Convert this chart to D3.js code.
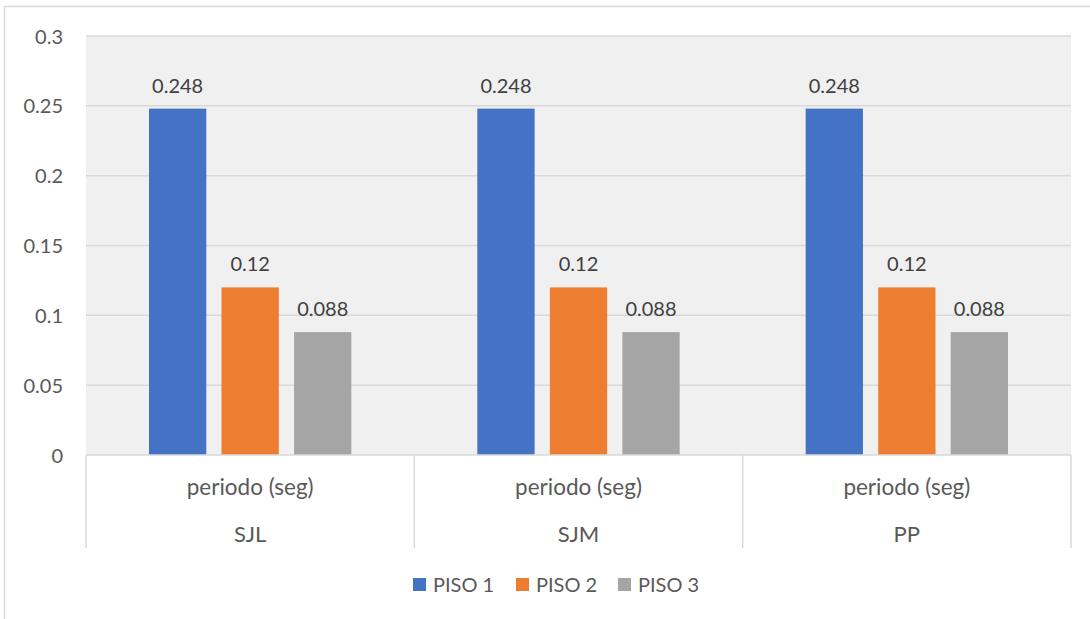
<!DOCTYPE html>
<html>
<head>
<meta charset="utf-8">
<script src="https://cdn.jsdelivr.net/npm/d3@7"></script>
<style>
  html, body { margin: 0; padding: 0; background: #fff; }
  svg { display: block; font-family: Lato, "Open Sans", sans-serif; }
</style>
</head>
<body>
<svg id="chart" width="1090" height="619"></svg>
<script>
// Chart data
const groups = ["SJL", "SJM", "PP"];
const subLabel = "periodo (seg)";
const series = ["PISO 1", "PISO 2", "PISO 3"];
const piso1 = [0.248, 0.248, 0.248];
const piso2 = [0.12, 0.12, 0.12];
const piso3 = [0.088, 0.088, 0.088];
const yTicks = [0, 0.05, 0.1, 0.15, 0.2, 0.25, 0.3];
const colors = ["#4472c4", "#ed7d31", "#a5a5a5"];

const values = [piso1, piso2, piso3];
const textColor = "#595959";
const gridColor = "#d9d9d9";

const svg = d3.select("#chart");
const W = 1090, H = 619;

// outer chart frame
svg.append("rect")
  .attr("x", 4.5).attr("y", 6.5)
  .attr("width", W + 10).attr("height", H + 10)
  .attr("fill", "#fff").attr("stroke", gridColor).attr("stroke-width", 1.5);

const plot = { left: 86, right: 1071, top: 36, bottom: 455 };

const x0 = d3.scaleBand().domain(groups).range([plot.left, plot.right]).padding(0);
const x1 = d3.scaleBand().domain(series)
  .range([63, x0.bandwidth() - 63]).paddingInner(0.21).paddingOuter(0);
const y = d3.scaleLinear().domain([0, 0.3]).range([plot.bottom, plot.top]);

// plot background
svg.append("rect")
  .attr("x", plot.left).attr("y", plot.top)
  .attr("width", plot.right - plot.left).attr("height", plot.bottom - plot.top)
  .attr("fill", "#f0f0f0");

// horizontal gridlines
svg.append("g").selectAll("line")
  .data(yTicks.filter(d => d > 0))
  .join("line")
  .attr("x1", plot.left).attr("x2", plot.right)
  .attr("y1", d => y(d)).attr("y2", d => y(d))
  .attr("stroke", gridColor).attr("stroke-width", 1.5);

// y axis labels
const yAxis = d3.axisLeft(y).tickValues(yTicks).tickFormat(d3.format("")).tickSize(0).tickPadding(0);
const yg = svg.append("g").attr("transform", `translate(63,0)`).call(yAxis);
yg.select(".domain").remove();
yg.selectAll("text")
  .attr("fill", textColor).style("font-size", "20px")
  .style("font-family", "Lato, sans-serif").attr("dy", "0.35em");

// bars
const gBars = svg.append("g");
groups.forEach((g, gi) => {
  series.forEach((s, si) => {
    const v = values[si][gi];
    const bx = x0(g) + x1(s);
    gBars.append("rect")
      .attr("x", bx).attr("y", y(v))
      .attr("width", x1.bandwidth()).attr("height", y(0) - y(v))
      .attr("fill", colors[si]);
    gBars.append("text")
      .attr("x", bx + x1.bandwidth() / 2).attr("y", y(v) - 16)
      .attr("text-anchor", "middle")
      .attr("fill", "#404040").style("font-size", "20px")
      .text(d3.format("")(v));
  });
});

// category axis (two levels)
const axisY = plot.bottom;
svg.append("line")
  .attr("x1", plot.left).attr("x2", plot.right)
  .attr("y1", axisY).attr("y2", axisY)
  .attr("stroke", gridColor).attr("stroke-width", 1.5);

const seps = groups.map(g => x0(g)).concat([plot.right]);
svg.append("g").selectAll("line")
  .data(seps).join("line")
  .attr("x1", d => d).attr("x2", d => d)
  .attr("y1", axisY).attr("y2", 548)
  .attr("stroke", gridColor).attr("stroke-width", 1.5);

const catG = svg.append("g");
groups.forEach(g => {
  const cx = x0(g) + x0.bandwidth() / 2;
  catG.append("text")
    .attr("x", cx).attr("y", 495)
    .attr("text-anchor", "middle").attr("fill", textColor)
    .style("font-size", "22.5px").text(subLabel);
  catG.append("text")
    .attr("x", cx).attr("y", 542)
    .attr("text-anchor", "middle").attr("fill", textColor)
    .style("font-size", "22px").text(g);
});

// legend
const legendX = [413, 516, 618];
const lg = svg.append("g");
series.forEach((s, i) => {
  lg.append("rect")
    .attr("x", legendX[i]).attr("y", 578)
    .attr("width", 13).attr("height", 13)
    .attr("fill", colors[i]);
  lg.append("text")
    .attr("x", legendX[i] + 20).attr("y", 592)
    .attr("fill", textColor).style("font-size", "20px")
    .text(s);
});
</script>
</body>
</html>
